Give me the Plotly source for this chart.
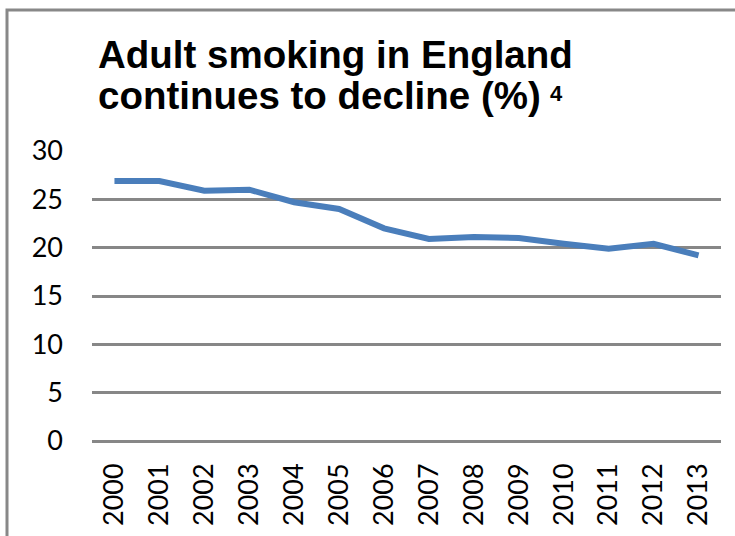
import plotly.graph_objects as go

years = ["2000", "2001", "2002", "2003", "2004", "2005", "2006",
         "2007", "2008", "2009", "2010", "2011", "2012", "2013"]
smoking_pct = [26.9, 26.9, 25.9, 26.0, 24.7, 24.0, 22.0,
               20.9, 21.1, 21.0, 20.4, 19.9, 20.4, 19.2]
y_ticks = [0, 5, 10, 15, 20, 25, 30]

title_line1 = "Adult smoking in England"
title_line2 = "continues to decline (%)"
title_note = "4"

fig = go.Figure()
fig.add_trace(go.Scatter(
    x=years, y=smoking_pct, mode="lines",
    line=dict(color="#4A7EBB", width=6),
    showlegend=False,
))

W, H = 735, 536
L, R, T, B = 92, 14, 151, 95
pw, ph = W - L - R, H - T - B

def px_x(x):
    return (x - L) / pw

def px_y(y):
    return (H - B - y) / ph

tick_font = dict(family="Lato", size=27, color="#000000")
title_font = dict(family="Liberation Sans", size=38.5, color="#000000")

fig.update_layout(
    width=W, height=H,
    margin=dict(l=L, r=R, t=T, b=B, autoexpand=False),
    paper_bgcolor="white", plot_bgcolor="white",
    xaxis=dict(
        type="category", range=[-0.5, 13.5],
        showgrid=False, showline=False, zeroline=False,
        tickangle=-90, ticklabelstandoff=16, automargin=False,
        tickfont=tick_font,
    ),
    yaxis=dict(
        range=[0, 30], tickvals=y_ticks,
        showgrid=True, gridcolor="#878787", gridwidth=2.5,
        zeroline=True, zerolinecolor="#878787", zerolinewidth=2.5,
        showline=False, automargin=False,
        ticklabelstandoff=28,
        tickfont=tick_font,
    ),
    shapes=[dict(
        type="rect", xref="paper", yref="paper",
        x0=px_x(7), x1=px_x(760), y0=px_y(560), y1=px_y(10),
        line=dict(color="#888888", width=3), fillcolor="rgba(0,0,0,0)",
        layer="below",
    )],
    annotations=[
        dict(text="<b>" + title_line1 + "</b>", xref="paper", yref="paper",
             x=px_x(96), y=px_y(54), xanchor="left", yanchor="middle",
             showarrow=False, font=title_font),
        dict(text="<b>" + title_line2 + "</b>", xref="paper", yref="paper",
             x=px_x(96), y=px_y(95), xanchor="left", yanchor="middle",
             showarrow=False, font=title_font),
        dict(text="<b>" + title_note + "</b>", xref="paper", yref="paper",
             x=px_x(556), y=px_y(94), xanchor="center", yanchor="middle",
             showarrow=False,
             font=dict(family="Liberation Sans", size=22, color="#000000")),
    ],
)

fig.write_html("out.html")
